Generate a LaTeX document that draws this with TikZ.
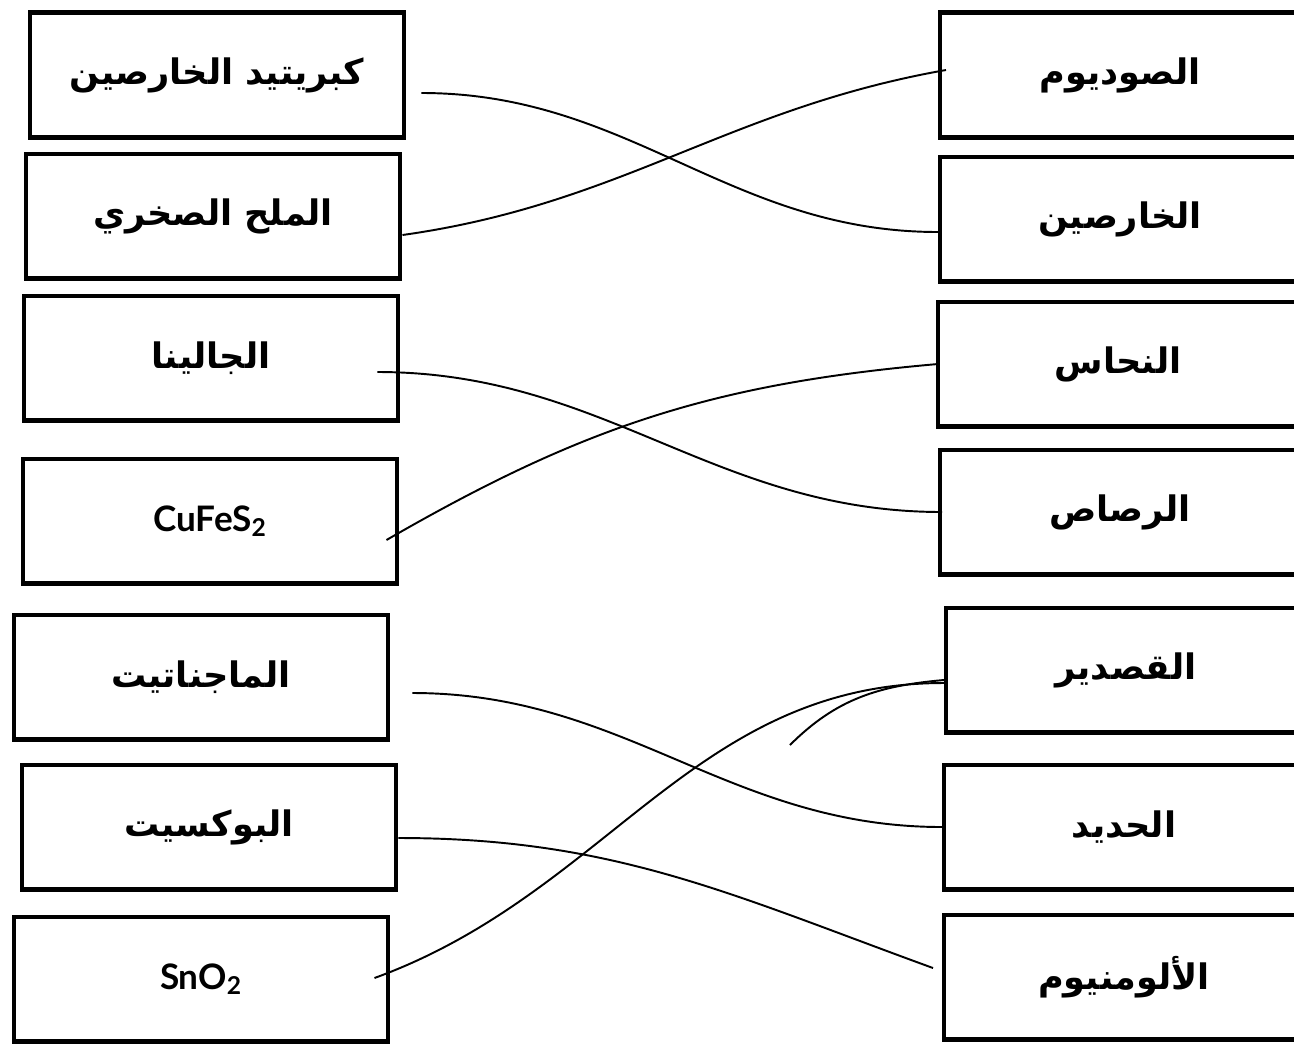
\documentclass[tikz,border=0pt]{standalone}
\usepackage{fontspec}
\setmainfont{Lato}
\newfontfamily\arabicfont[Script=Arabic]{DejaVu Sans}
\TeXXeTstate=1
\usepackage{tikz}
\newcommand{\artext}[1]{{\arabicfont\bfseries\beginR #1\endR}}

\begin{document}
\begin{tikzpicture}[x=0.02cm,y=-0.02cm,line width=1.1pt,
    box/.style={draw,line width=2.3pt,inner sep=0pt,minimum width=7.5cm,minimum height=2.5cm,
                font=\fontsize{20}{24}\selectfont},
    metal/.style={box,minimum width=7.2cm}]
      \useasboundingbox (0,0) rectangle (1294,1046);

      % minerals
      \node[box] (L1) at (217,75)  {\artext{كبريتيد الخارصين}};
      \node[box] (L2) at (213,216) {\artext{الملح الصخري}};
      \node[box] (L3) at (211,358) {\artext{الجالينا}};
      \node[box] (L4) at (210,521) {\bfseries CuFeS\textsubscript{2}};
      \node[box] (L5) at (201,677) {\artext{الماجناتيت}};
      \node[box] (L6) at (209,827) {\artext{البوكسيت}};
      \node[box] (L7) at (201,979) {\bfseries SnO\textsubscript{2}};

      % metals
      \node[metal] (R1) at (1120,75)  {\artext{الصوديوم}};
      \node[metal] (R2) at (1120,219) {\artext{الخارصين}};
      \node[metal] (R3) at (1118,364) {\artext{النحاس}};
      \node[metal] (R4) at (1120,512) {\artext{الرصاص}};
      \node[metal] (R5) at (1126,670) {\artext{القصدير}};
      \node[metal] (R6) at (1124,827) {\artext{الحديد}};
      \node[metal] (R7) at (1124,977) {\artext{الألومنيوم}};

      \coordinate (s1) at (790,745);

      \draw ([xshift=0.3cm,yshift=-0.36cm]L1.east) to[out=0,in=180]   ([yshift=-0.26cm]R2.west);
      \draw ([yshift=-0.38cm]L2.east)             to[out=8,in=190]   ([xshift=0.16cm,yshift=0.1cm]R1.west);
      \draw ([xshift=-0.46cm,yshift=-0.28cm]L3.east) to[out=0,in=180] ([xshift=0.08cm]R4.west);
      \draw ([xshift=-0.26cm,yshift=-0.38cm]L4.east) to[out=30,in=185] ([xshift=0.04cm]R3.west);
      \draw ([xshift=0.44cm,yshift=-0.32cm]L5.east) to[out=0,in=180]  (R6.west);
      \draw ([yshift=-0.22cm]L6.east)             to[out=0,in=160]   ([xshift=-0.18cm,yshift=0.18cm]R7.west);
      \draw ([xshift=-0.32cm,yshift=0.02cm]L7.east) to[out=20,in=180] ([yshift=-0.26cm]R5.west);
      \draw (s1) to[out=45,in=185] ([yshift=-0.2cm]R5.west);
\end{tikzpicture}
\end{document}
